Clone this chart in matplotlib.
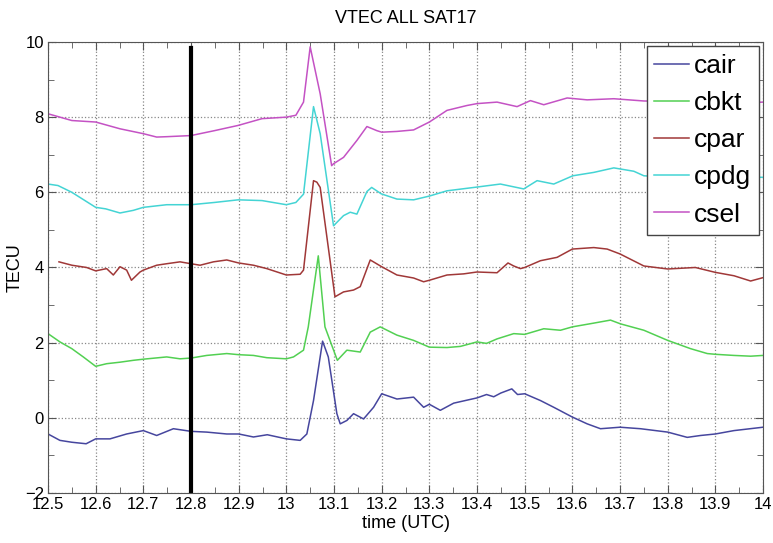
import numpy as np
import matplotlib
matplotlib.use('Agg')
import matplotlib.pyplot as plt
from matplotlib.ticker import MultipleLocator

plt.rcParams['font.family'] = ['Liberation Sans', 'DejaVu Sans']

# values
cair_t = [12.50, 12.525, 12.55, 12.58, 12.60, 12.63, 12.665, 12.70, 12.728, 12.763, 12.80, 12.833,
          12.875, 12.90, 12.931, 12.96, 13.00, 13.029, 13.043, 13.057, 13.076, 13.088, 13.106, 13.113,
          13.127, 13.141, 13.162, 13.183, 13.20, 13.232, 13.267, 13.288, 13.30, 13.323, 13.351, 13.40,
          13.42, 13.435, 13.45, 13.473, 13.485, 13.50, 13.533, 13.561, 13.60, 13.631, 13.659, 13.70,
          13.743, 13.80, 13.841, 13.869, 13.90, 13.939, 14.0]
cair_v = [-0.43, -0.60, -0.65, -0.69, -0.56, -0.56, -0.43, -0.34, -0.47, -0.29, -0.36, -0.38,
          -0.43, -0.43, -0.51, -0.45, -0.56, -0.60, -0.43, 0.46, 2.04, 1.62, 0.11, -0.16,
          -0.07, 0.11, -0.03, 0.28, 0.64, 0.50, 0.55, 0.28, 0.36, 0.20, 0.39, 0.53,
          0.62, 0.56, 0.66, 0.77, 0.62, 0.64, 0.46, 0.28, 0.02, -0.16, -0.29, -0.25,
          -0.29, -0.38, -0.52, -0.47, -0.43, -0.34, -0.25]

cbkt_t = [12.50, 12.525, 12.55, 12.574, 12.60, 12.623, 12.651, 12.679, 12.70, 12.749, 12.777, 12.80,
          12.833, 12.875, 12.90, 12.931, 12.959, 13.00, 13.015, 13.036, 13.046, 13.067, 13.081, 13.107,
          13.127, 13.155, 13.176, 13.197, 13.232, 13.267, 13.30, 13.337, 13.365, 13.40, 13.42, 13.442,
          13.477, 13.50, 13.540, 13.575, 13.60, 13.645, 13.680, 13.701, 13.750, 13.80, 13.848, 13.883,
          13.90, 13.939, 13.974, 14.0]
cbkt_v = [2.24, 2.02, 1.84, 1.62, 1.37, 1.44, 1.48, 1.53, 1.56, 1.62, 1.57, 1.59,
          1.66, 1.71, 1.68, 1.66, 1.60, 1.57, 1.62, 1.80, 2.42, 4.31, 2.42, 1.53,
          1.80, 1.75, 2.28, 2.42, 2.20, 2.06, 1.88, 1.87, 1.90, 2.02, 1.98, 2.10,
          2.24, 2.22, 2.37, 2.33, 2.42, 2.52, 2.60, 2.50, 2.33, 2.06, 1.84, 1.71,
          1.69, 1.66, 1.64, 1.66]

cpar_t = [12.523, 12.55, 12.581, 12.60, 12.623, 12.637, 12.651, 12.665, 12.675, 12.693, 12.70, 12.728,
          12.749, 12.777, 12.80, 12.819, 12.847, 12.875, 12.90, 12.931, 12.959, 13.00, 13.029, 13.036,
          13.057, 13.064, 13.071, 13.102, 13.120, 13.141, 13.155, 13.176, 13.20, 13.232, 13.267, 13.288,
          13.30, 13.337, 13.372, 13.40, 13.442, 13.465, 13.477, 13.491, 13.50, 13.533, 13.568, 13.60,
          13.645, 13.673, 13.70, 13.75, 13.80, 13.858, 13.90, 13.939, 13.974, 14.0]
cpar_v = [4.15, 4.06, 4.00, 3.91, 3.97, 3.80, 4.02, 3.93, 3.66, 3.88, 3.93, 4.06,
          4.10, 4.15, 4.10, 4.06, 4.15, 4.20, 4.12, 4.06, 3.97, 3.80, 3.82, 3.93,
          6.31, 6.27, 6.13, 3.22, 3.35, 3.40, 3.49, 4.20, 4.02, 3.80, 3.72, 3.62,
          3.66, 3.80, 3.83, 3.88, 3.86, 4.12, 4.04, 3.97, 4.00, 4.18, 4.27, 4.49,
          4.53, 4.49, 4.36, 4.04, 3.96, 4.00, 3.87, 3.78, 3.64, 3.73]

cpdg_t = [12.50, 12.521, 12.55, 12.60, 12.621, 12.651, 12.679, 12.70, 12.749, 12.80, 12.849, 12.899,
          12.949, 13.00, 13.020, 13.036, 13.057, 13.071, 13.099, 13.120, 13.134, 13.148, 13.169, 13.179,
          13.199, 13.232, 13.267, 13.30, 13.337, 13.40, 13.449, 13.498, 13.526, 13.561, 13.601, 13.645,
          13.687, 13.729, 13.75, 13.80, 13.85, 13.90, 13.95, 14.0]
cpdg_v = [6.22, 6.18, 6.00, 5.60, 5.56, 5.45, 5.52, 5.60, 5.67, 5.67, 5.73, 5.80,
          5.78, 5.67, 5.73, 5.95, 8.28, 7.56, 5.11, 5.38, 5.47, 5.42, 6.02, 6.13,
          5.96, 5.82, 5.80, 5.90, 6.04, 6.14, 6.22, 6.09, 6.31, 6.22, 6.44, 6.53,
          6.65, 6.56, 6.44, 6.40, 6.38, 6.35, 6.40, 6.40]

csel_t = [12.50, 12.55, 12.60, 12.651, 12.70, 12.728, 12.749, 12.80, 12.849, 12.899, 12.949, 13.00,
          13.020, 13.036, 13.050, 13.071, 13.095, 13.099, 13.120, 13.148, 13.169, 13.190, 13.20, 13.232,
          13.267, 13.30, 13.337, 13.379, 13.40, 13.442, 13.484, 13.512, 13.540, 13.589, 13.631, 13.687,
          13.75, 13.80, 13.85, 13.90, 13.95, 14.0]
csel_v = [8.09, 7.91, 7.87, 7.69, 7.56, 7.47, 7.48, 7.51, 7.64, 7.78, 7.96, 8.00,
          8.05, 8.40, 9.87, 8.62, 6.71, 6.76, 6.93, 7.38, 7.75, 7.64, 7.60, 7.62,
          7.66, 7.87, 8.18, 8.31, 8.36, 8.40, 8.28, 8.44, 8.33, 8.51, 8.46, 8.49,
          8.43, 8.42, 8.40, 8.40, 8.38, 8.40]

names = ['cair', 'cbkt', 'cpar', 'cpdg', 'csel']
colors = ['#46469e', '#52d052', '#a03838', '#44d4d4', '#c452c4']
series = [(cair_t, cair_v), (cbkt_t, cbkt_v), (cpar_t, cpar_v), (cpdg_t, cpdg_v), (csel_t, csel_v)]
marker_time = 12.8

fig = plt.figure(figsize=(7.73, 5.43), dpi=100)
ax = fig.add_axes([0.0621, 0.0921, 0.925, 0.8306])

for (t, v), name, c in zip(series, names, colors):
    ax.plot(np.array(t), np.array(v), color=c, lw=1.1, label=name)

ax.plot([marker_time, marker_time], [-2, 9.85], color='black', lw=3)

ax.set_xlim(12.5, 14)
ax.set_ylim(-2, 10)
ax.xaxis.set_major_locator(MultipleLocator(0.1))
ax.xaxis.set_minor_locator(MultipleLocator(0.05))
ax.yaxis.set_major_locator(MultipleLocator(2))
ax.yaxis.set_minor_locator(MultipleLocator(1))
ax.set_xticklabels(['%g' % x for x in ax.get_xticks()])
ax.tick_params(which='both', direction='in', top=True, right=True, color='#555555', labelsize=12)
ax.tick_params(which='major', length=6, pad=3)
ax.tick_params(which='minor', length=4)
ax.grid(True, which='major', linestyle=':', color='#888888', lw=0.9)
for s in ax.spines.values():
    s.set_color('#555555')

ax.set_title('VTEC ALL SAT17', fontsize=13, pad=14)
ax.set_xlabel('time (UTC)', fontsize=13, labelpad=2)
ax.set_ylabel('TECU', fontsize=13)
ax.yaxis.set_label_coords(-0.034, 0.5)

leg = ax.legend(loc='upper right', fontsize=19, handlelength=1.3, handletextpad=0.2,
                labelspacing=0.5, borderaxespad=0.15, fancybox=False, framealpha=1,
                edgecolor='#444444', borderpad=0.3)

fig.savefig('out.png', dpi=100)
